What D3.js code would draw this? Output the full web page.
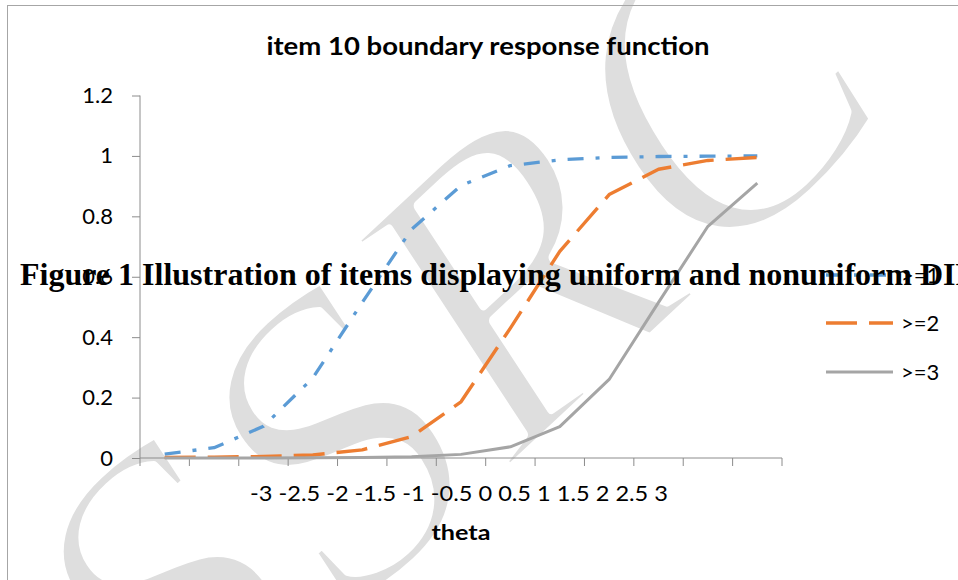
<!DOCTYPE html>
<html>
<head>
<meta charset="utf-8">
<script src="https://cdn.jsdelivr.net/npm/d3@7/dist/d3.min.js"></script>
<style>
  html, body { margin: 0; padding: 0; background: #ffffff; }
  svg { display: block; }
</style>
</head>
<body>
<svg id="chart" width="958" height="580"></svg>
<script>
// ---- data ----
const categories = ["-3", "-2.5", "-2", "-1.5", "-1", "-0.5", "0", "0.5", "1", "1.5", "2", "2.5", "3"];
const seriesNames = [">=1", ">=2", ">=3"];
const ge1 = [0.013, 0.034, 0.105, 0.265, 0.515, 0.757, 0.902, 0.968, 0.987, 0.995, 0.998, 0.999, 1.0];
const ge2 = [0.002, 0.003, 0.005, 0.01, 0.027, 0.071, 0.186, 0.43, 0.684, 0.872, 0.956, 0.985, 0.995];
const ge3 = [0.0, 0.0, 0.0, 0.001, 0.002, 0.004, 0.012, 0.037, 0.104, 0.26, 0.515, 0.767, 0.91];
const yTicks = [0, 0.2, 0.4, 0.6, 0.8, 1, 1.2];
const tickLabels = ["-3", "-2.5", "-2", "-1.5", "-1", "-0.5", "0", "0.5", "1", "1.5", "2", "2.5", "3"];
const chartTitle = "item 10 boundary response function";
const xTitle = "theta";
const figureCaption = "Figure 1 Illustration of items displaying uniform and nonuniform DIF";
const watermark = "SSRC";

const colors = ["#5B9BD5", "#ED7D31", "#A5A5A5"];
const dashes = ["16,12,4,12", "31,12", null];
const widths = [3.3, 3.4, 3];
const series = [ge1, ge2, ge3];

const svg = d3.select("#chart");
const sans = "Lato, 'Open Sans', sans-serif";

// background
svg.append("rect").attr("x", 0).attr("y", 0).attr("width", 958).attr("height", 580).attr("fill", "#fff");

// watermark (Word-style WordArt, stretched and rotated; thin strokes)
svg.append("g")
  .attr("transform", "translate(455,332) scale(0.84,1) rotate(-38)")
  .append("text")
  .attr("text-anchor", "middle")
  .attr("dy", "0.33em")
  .attr("font-family", "'Liberation Serif', 'Times New Roman', serif")
  .attr("font-size", 450)
  .attr("fill", "#dedede")
  .attr("stroke", "#ffffff")
  .attr("stroke-width", 11)
  .attr("stroke-linejoin", "round")
  .text(watermark);

// chart border
svg.append("rect")
  .attr("x", 7.5).attr("y", 5.5).attr("width", 1000).attr("height", 600)
  .attr("fill", "none").attr("stroke", "#a6a6a6").attr("stroke-width", 1);

// scales
const x = d3.scaleBand().domain(categories).range([140, 782]).paddingInner(0).paddingOuter(0);
const y = d3.scaleLinear().domain([0, 1.2]).range([458, 95.5]);
const axisColor = "#8c8c8c";

// y axis
const yAxis = svg.append("g")
  .attr("transform", "translate(140,0)")
  .call(d3.axisLeft(y).tickValues(yTicks).tickSize(8).tickPadding(19).tickFormat(d => String(d)));
yAxis.select(".domain").attr("stroke", axisColor).attr("d", `M0,${y(1.2)}V${y(0)}`);
yAxis.selectAll(".tick line").attr("stroke", axisColor);
yAxis.selectAll(".tick text").attr("font-family", sans).attr("font-size", 22).attr("fill", "#000");

// x axis (Excel-style ticks at category boundaries)
const xAxis = svg.append("g").attr("transform", `translate(0,${y(0)})`);
xAxis.append("line").attr("x1", x.range()[0]).attr("x2", x.range()[1]).attr("y1", 0).attr("y2", 0)
  .attr("stroke", axisColor).attr("stroke-width", 1);
const boundaries = categories.map(c => x(c)).concat([x.range()[1]]);
xAxis.selectAll("line.tk").data(boundaries).enter().append("line").attr("class", "tk")
  .attr("x1", d => d).attr("x2", d => d).attr("y1", 0).attr("y2", 8)
  .attr("stroke", axisColor).attr("stroke-width", 1);
svg.append("text")
  .attr("x", (x.range()[0] + x.range()[1]) / 2 - 2).attr("y", 501)
  .attr("text-anchor", "middle").attr("font-family", sans).attr("font-size", 21).attr("fill", "#000")
  .attr("textLength", 418).attr("lengthAdjust", "spacingAndGlyphs")
  .text(tickLabels.join(" "));

// series lines
const line = d3.line().x((d, i) => x(categories[i]) + x.bandwidth() / 2).y(d => y(d));
series.forEach((s, k) => {
  svg.append("path").datum(s)
    .attr("d", line)
    .attr("fill", "none")
    .attr("stroke", colors[k])
    .attr("stroke-width", widths[k])
    .attr("stroke-dasharray", dashes[k])
    .attr("stroke-linejoin", "round");
});

// titles
svg.append("text").attr("x", 488).attr("y", 55).attr("text-anchor", "middle")
  .attr("font-family", sans).attr("font-weight", "bold").attr("font-size", 24).attr("fill", "#000")
  .attr("textLength", 443).attr("lengthAdjust", "spacingAndGlyphs")
  .text(chartTitle);
svg.append("text").attr("x", 461).attr("y", 540).attr("text-anchor", "middle")
  .attr("font-family", sans).attr("font-weight", "bold").attr("font-size", 21).attr("fill", "#000")
  .attr("textLength", 59).attr("lengthAdjust", "spacingAndGlyphs")
  .text(xTitle);

// legend
const legendY = [275, 323, 372];
seriesNames.forEach((name, k) => {
  svg.append("line").attr("x1", 826).attr("x2", 893).attr("y1", legendY[k]).attr("y2", legendY[k])
    .attr("stroke", colors[k]).attr("stroke-width", widths[k]).attr("stroke-dasharray", dashes[k]);
  svg.append("text").attr("x", 901).attr("y", legendY[k]).attr("dy", "0.35em")
    .attr("font-family", sans).attr("font-size", 22).attr("fill", "#000").text(name);
});

// overlaid caption
svg.append("text").attr("x", 20).attr("y", 285)
  .attr("font-family", "'Liberation Serif', 'Times New Roman', serif").attr("font-weight", "bold")
  .attr("font-size", 32).attr("fill", "#000")
  .text(figureCaption);
</script>
</body>
</html>
